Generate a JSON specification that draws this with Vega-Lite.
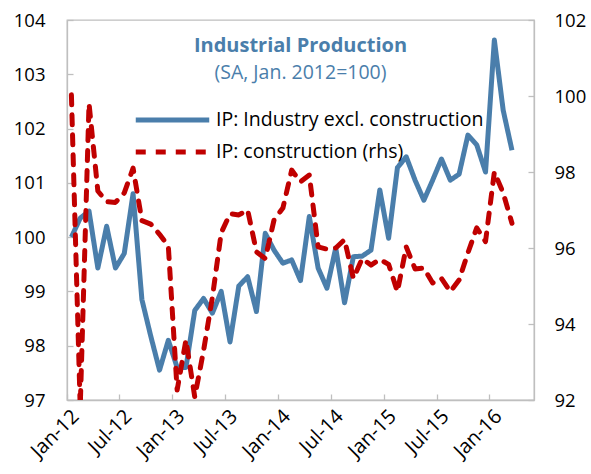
{
  "$schema": "https://vega.github.io/schema/vega-lite/v6.json",
  "width": 467,
  "height": 380,
  "autosize": {"type": "none"},
  "padding": {"left": 67, "top": 20, "right": 57, "bottom": 74},
  "background": "white",
  "config": {
    "font": "Open Sans",
    "view": {"stroke": "#BFBFBF", "strokeWidth": 1.3},
    "axis": {"labelFont": "Open Sans", "labelColor": "#000000", "domainColor": "#BFBFBF", "tickColor": "#BFBFBF", "domainWidth": 1.3, "tickWidth": 1.3, "grid": false, "title": null}
  },
  "title": {
    "text": "Industrial Production",
    "subtitle": "(SA, Jan. 2012=100)",
    "anchor": "middle",
    "offset": -71,
    "font": "Open Sans",
    "fontSize": 20,
    "fontWeight": "bold",
    "color": "#4A7EAB",
    "subtitleFont": "Open Sans",
    "subtitleFontSize": 19.5,
    "subtitleColor": "#4A7EAB",
    "subtitlePadding": 8
  },
  "data": {
    "values": [
      {"month": "Jan-12", "ip": 100.0, "con": 100.03},
      {"month": "Feb-12", "ip": 100.35, "con": 91.8},
      {"month": "Mar-12", "ip": 100.48, "con": 99.8},
      {"month": "Apr-12", "ip": 99.43, "con": 97.5},
      {"month": "May-12", "ip": 100.2, "con": 97.22},
      {"month": "Jun-12", "ip": 99.43, "con": 97.2},
      {"month": "Jul-12", "ip": 99.7, "con": 97.45},
      {"month": "Aug-12", "ip": 100.8, "con": 98.1},
      {"month": "Sep-12", "ip": 98.85, "con": 96.72},
      {"month": "Oct-12", "ip": 98.18, "con": 96.63},
      {"month": "Nov-12", "ip": 97.55, "con": 96.36},
      {"month": "Dec-12", "ip": 98.1, "con": 96.05},
      {"month": "Jan-13", "ip": 97.6, "con": 92.26},
      {"month": "Feb-13", "ip": 97.6, "con": 93.58},
      {"month": "Mar-13", "ip": 98.65, "con": 92.08},
      {"month": "Apr-13", "ip": 98.87, "con": 93.3},
      {"month": "May-13", "ip": 98.6, "con": 94.7},
      {"month": "Jun-13", "ip": 99.0, "con": 96.4},
      {"month": "Jul-13", "ip": 98.07, "con": 96.9},
      {"month": "Aug-13", "ip": 99.1, "con": 96.87},
      {"month": "Sep-13", "ip": 99.27, "con": 97.0},
      {"month": "Oct-13", "ip": 98.63, "con": 95.9},
      {"month": "Nov-13", "ip": 100.07, "con": 95.72},
      {"month": "Dec-13", "ip": 99.76, "con": 96.74},
      {"month": "Jan-14", "ip": 99.52, "con": 97.05},
      {"month": "Feb-14", "ip": 99.58, "con": 98.05},
      {"month": "Mar-14", "ip": 99.2, "con": 97.74},
      {"month": "Apr-14", "ip": 100.38, "con": 97.92},
      {"month": "May-14", "ip": 99.43, "con": 96.03},
      {"month": "Jun-14", "ip": 99.06, "con": 95.97},
      {"month": "Jul-14", "ip": 99.8, "con": 96.0},
      {"month": "Aug-14", "ip": 98.79, "con": 96.22},
      {"month": "Sep-14", "ip": 99.64, "con": 95.2},
      {"month": "Oct-14", "ip": 99.65, "con": 95.72},
      {"month": "Nov-14", "ip": 99.76, "con": 95.55},
      {"month": "Dec-14", "ip": 100.87, "con": 95.7},
      {"month": "Jan-15", "ip": 99.98, "con": 95.57},
      {"month": "Feb-15", "ip": 101.28, "con": 94.85},
      {"month": "Mar-15", "ip": 101.48, "con": 96.03},
      {"month": "Apr-15", "ip": 101.05, "con": 95.45},
      {"month": "May-15", "ip": 100.68, "con": 95.47},
      {"month": "Jun-15", "ip": 101.05, "con": 95.08},
      {"month": "Jul-15", "ip": 101.44, "con": 95.2},
      {"month": "Aug-15", "ip": 101.05, "con": 94.85},
      {"month": "Sep-15", "ip": 101.16, "con": 95.16},
      {"month": "Oct-15", "ip": 101.88, "con": 95.87},
      {"month": "Nov-15", "ip": 101.7, "con": 96.53},
      {"month": "Dec-15", "ip": 101.2, "con": 96.17},
      {"month": "Jan-16", "ip": 103.63, "con": 98.0},
      {"month": "Feb-16", "ip": 102.34, "con": 97.45},
      {"month": "Mar-16", "ip": 101.6, "con": 96.65}
    ]
  },
  "transform": [
    {"fold": ["ip", "con"], "as": ["key", "value"]},
    {"lookup": "key", "from": {"data": {"values": [
      {"key": "ip", "series": "IP: Industry excl. construction"},
      {"key": "con", "series": "IP: construction (rhs)"}
    ]}, "key": "key", "fields": ["series"]}}
  ],
  "encoding": {
    "x": {
      "field": "month",
      "type": "ordinal",
      "sort": null,
      "scale": {
        "domain": ["Jan-12","Feb-12","Mar-12","Apr-12","May-12","Jun-12","Jul-12","Aug-12","Sep-12","Oct-12","Nov-12","Dec-12","Jan-13","Feb-13","Mar-13","Apr-13","May-13","Jun-13","Jul-13","Aug-13","Sep-13","Oct-13","Nov-13","Dec-13","Jan-14","Feb-14","Mar-14","Apr-14","May-14","Jun-14","Jul-14","Aug-14","Sep-14","Oct-14","Nov-14","Dec-14","Jan-15","Feb-15","Mar-15","Apr-15","May-15","Jun-15","Jul-15","Aug-15","Sep-15","Oct-15","Nov-15","Dec-15","Jan-16","Feb-16","Mar-16","Apr-16","May-16"],
        "type": "band",
        "paddingInner": 0,
        "paddingOuter": 0
      },
      "axis": {
        "values": ["Jan-12","Jul-12","Jan-13","Jul-13","Jan-14","Jul-14","Jan-15","Jul-15","Jan-16"],
        "bandPosition": 0,
        "labelOffset": 4.4,
        "labelAngle": -45,
        "labelAlign": "right",
        "labelBaseline": "middle",
        "labelFontSize": 20,
        "labelPadding": 19,
        "tickSize": -6,
        "labelOverlap": false
      }
    },
    "color": {
      "field": "series",
      "type": "nominal",
      "scale": {"domain": ["IP: Industry excl. construction", "IP: construction (rhs)"], "range": ["#4A7EAB", "#C00000"]},
      "legend": {
        "title": null,
        "orient": "none",
        "legendX": 66,
        "legendY": 89,
        "symbolType": "stroke",
        "symbolSize": 5400,
        "symbolStrokeWidth": 5,
        "clipHeight": 22,
        "labelFont": "Open Sans",
        "labelFontSize": 19.5,
        "labelColor": "#000000",
        "labelOffset": 4,
        "labelLimit": 500,
        "rowPadding": 10
      }
    },
    "strokeDash": {
      "field": "series",
      "type": "nominal",
      "scale": {"domain": ["IP: Industry excl. construction", "IP: construction (rhs)"], "range": [[1, 0], [10, 10]]},
      "legend": null
    }
  },
  "layer": [
    {
      "transform": [{"filter": "datum.key === 'ip'"}],
      "mark": {"type": "line", "strokeWidth": 5, "strokeJoin": "round"},
      "encoding": {
        "y": {
          "field": "value",
          "type": "quantitative",
          "scale": {"domain": [97, 104], "zero": false, "nice": false},
          "axis": {"orient": "left", "values": [97, 98, 99, 100, 101, 102, 103, 104], "tickSize": -6, "labelPadding": 28, "labelFontSize": 18.5, "format": "d"}
        }
      }
    },
    {
      "transform": [{"filter": "datum.key === 'con'"}],
      "mark": {"type": "line", "strokeWidth": 5, "strokeCap": "round", "strokeJoin": "round", "clip": true},
      "encoding": {
        "y": {
          "field": "value",
          "type": "quantitative",
          "scale": {"domain": [92, 102], "zero": false, "nice": false},
          "axis": {"orient": "right", "values": [92, 94, 96, 98, 100, 102], "tickSize": -6, "labelPadding": 26, "labelFontSize": 18.5, "format": "d"}
        }
      }
    }
  ],
  "resolve": {"scale": {"y": "independent"}}
}
